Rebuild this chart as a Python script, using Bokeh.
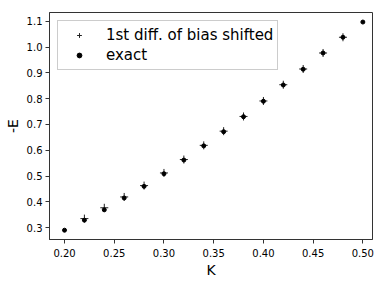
from bokeh.plotting import figure
from bokeh.models import FixedTicker, PrintfTickFormatter, Range1d, Legend, LegendItem
from bokeh.embed import file_html
from bokeh.resources import INLINE

K_exact = [0.20, 0.22, 0.24, 0.26, 0.28, 0.30, 0.32, 0.34, 0.36, 0.38, 0.40, 0.42, 0.44, 0.46, 0.48, 0.50]
E_exact = [0.290, 0.329, 0.369, 0.415, 0.460, 0.509, 0.562, 0.617, 0.672, 0.730, 0.790, 0.853, 0.914, 0.977, 1.038, 1.097]
K_diff = [0.22, 0.24, 0.26, 0.28, 0.30, 0.32, 0.34, 0.36, 0.38, 0.40, 0.42, 0.44, 0.46, 0.48]
E_diff = [0.335, 0.377, 0.419, 0.463, 0.512, 0.564, 0.619, 0.674, 0.731, 0.791, 0.854, 0.915, 0.977, 1.038]
x_ticks = [0.20, 0.25, 0.30, 0.35, 0.40, 0.45, 0.50]
y_ticks = [0.3, 0.4, 0.5, 0.6, 0.7, 0.8, 0.9, 1.0, 1.1]

p = figure(width=376, height=280, output_backend="svg", toolbar_location=None,
           x_range=Range1d(0.1849, 0.5097), y_range=Range1d(0.254, 1.134),
           min_border_left=49, min_border_top=12, min_border_right=4, min_border_bottom=36)

r1 = p.scatter(K_diff, E_diff, marker="cross", size=8, line_color="#222222", line_width=1)
r2 = p.scatter(K_exact, E_exact, marker="circle", size=4, fill_color="black", line_color="black")

p.grid.visible = False
p.outline_line_color = "#333333"
p.outline_line_width = 1

for ax in (p.xaxis[0], p.yaxis[0]):
    ax.major_label_text_font = "DejaVu Sans"
    ax.major_label_text_font_size = "10px"
    ax.major_label_text_color = "black"
    ax.axis_label_text_font = "DejaVu Sans"
    ax.axis_label_text_font_size = "14px"
    ax.axis_label_text_font_style = "normal"
    ax.axis_label_text_color = "black"
    ax.minor_tick_line_color = None
    ax.major_tick_out = 4
    ax.major_tick_in = 0
    ax.axis_line_color = "#333333"
    ax.major_tick_line_color = "#333333"

p.xaxis.ticker = FixedTicker(ticks=x_ticks)
p.xaxis.formatter = PrintfTickFormatter(format="%.2f")
p.yaxis.ticker = FixedTicker(ticks=y_ticks)
p.yaxis.formatter = PrintfTickFormatter(format="%.1f")
p.xaxis.axis_label = "K"
p.yaxis.axis_label = "-E"
p.xaxis.major_label_standoff = 5
p.yaxis.major_label_standoff = 3
p.xaxis.axis_label_standoff = 2
p.yaxis.axis_label_standoff = 3

legend = Legend(items=[LegendItem(label="1st diff. of bias shifted", renderers=[r1]),
                       LegendItem(label="exact", renderers=[r2])],
                location="top_left")
legend.label_text_font = "DejaVu Sans"
legend.label_text_font_size = "15px"
legend.label_text_color = "black"
legend.border_line_color = "#cccccc"
legend.border_line_width = 1
legend.border_line_alpha = 1
legend.background_fill_alpha = 0.8
legend.margin = 8
legend.padding = 4
legend.spacing = 0
legend.glyph_width = 34
legend.glyph_height = 12
legend.label_standoff = 10
legend.label_height = 20
p.add_layout(legend)

open("out.html", "w").write(file_html(p, INLINE))
